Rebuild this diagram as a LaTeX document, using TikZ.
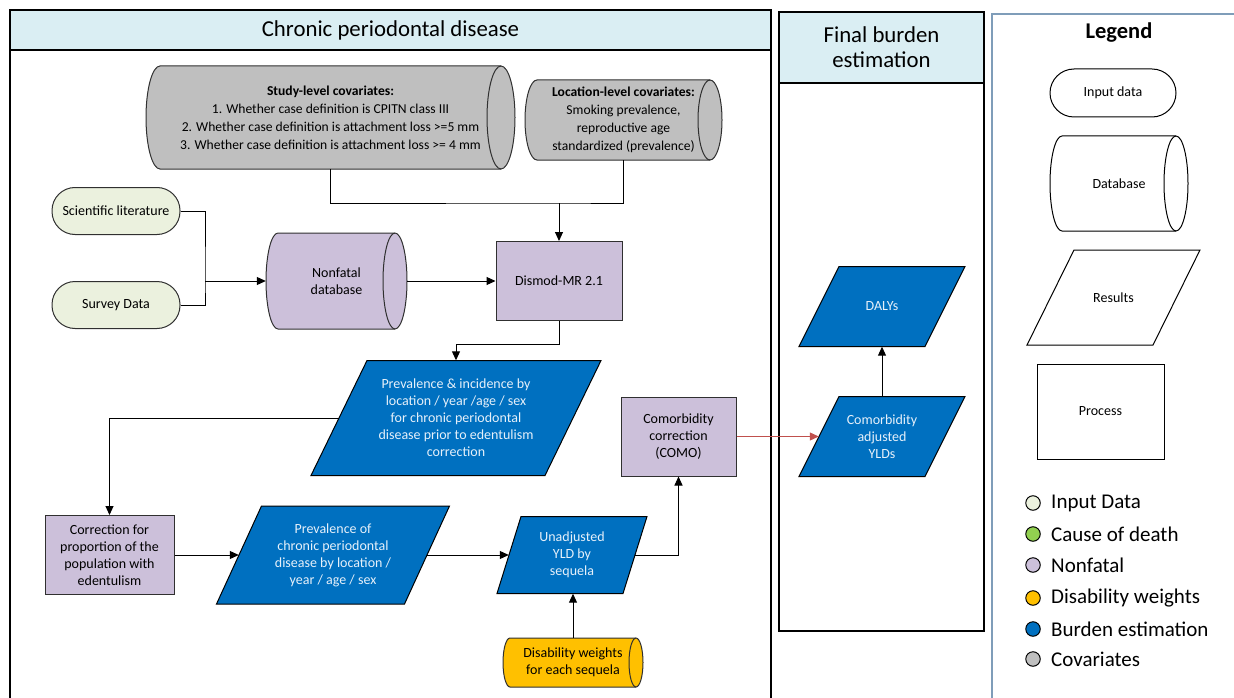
\documentclass[tikz,border=0pt]{standalone}
\usepackage{fontspec}
\setmainfont{Carlito}
\usetikzlibrary{arrows.meta,calc}
\definecolor{hdr}{HTML}{DAEEF3}
\definecolor{burden}{HTML}{0070C0}
\definecolor{nonfatal}{HTML}{CCC0DA}
\definecolor{inputc}{HTML}{EBF1DE}
\definecolor{covar}{HTML}{BFBFBF}
\definecolor{dw}{HTML}{FFC000}
\definecolor{cod}{HTML}{92D050}
\definecolor{legline}{HTML}{7F9DB9}
\definecolor{redarrow}{HTML}{C0504D}
\definecolor{edge}{HTML}{303030}
\definecolor{wtxt}{HTML}{E6F0FA}

\tikzset{
  shapetext/.style={inner sep=0pt, align=center, font=\fontsize{14}{17}\selectfont, text=black},
  covtext/.style={inner sep=0pt, align=center, font=\fontsize{13.6}{18}\selectfont, text=black},
  lgtext/.style={shapetext, font=\fontsize{14}{17}\selectfont},
  wtext/.style={shapetext, text=wtxt},
  bshape/.style={fill=burden, draw=black, line width=1pt},
  nfshape/.style={fill=nonfatal, draw=edge, line width=1pt},
  cvshape/.style={fill=covar, draw=edge, line width=1pt},
  dwshape/.style={fill=dw, draw=edge, line width=1pt},
  lgshape/.style={fill=white, draw=black, line width=1pt},
  procbox/.style={shapetext, draw=edge, line width=1pt, fill=nonfatal},
  inbox/.style={shapetext, draw=edge, line width=1pt, fill=inputc, rounded corners=23pt, minimum width=128pt, minimum height=47pt},
  panel/.style={draw=black, line width=1.2pt},
  titletext/.style={align=center, font=\fontsize{22.8}{25}\selectfont, inner sep=0pt},
  legtext/.style={anchor=west, font=\fontsize{21}{24}\selectfont, inner sep=0pt},
  dot/.style={circle, draw=black, line width=1pt, minimum size=14.5pt, inner sep=0pt},
  conn/.style={draw=black, line width=1pt},
  arr/.style={conn, -{Triangle[length=9pt,width=8pt]}},
}

% parallelogram: name, cx, cy, side width, height, slant, shape style, text style, text
\newcommand{\paral}[9]{%
  \filldraw[#7] ({#2-#4/2+#6/2},{#3-#5/2}) -- ({#2+#4/2+#6/2},{#3-#5/2}) -- ({#2+#4/2-#6/2},{#3+#5/2}) -- ({#2-#4/2-#6/2},{#3+#5/2}) -- cycle;
  \node[#8, minimum width=#4pt, minimum height=#5pt] (#1) at (#2,#3) {#9};}

% cylinder: name, body left x, right ellipse centre x, top y, bottom y, rx, shape style, text style, text
\newcommand{\cyl}[9]{%
  \filldraw[#7] (#2,#4) -- (#3,#4) arc[start angle=-90,end angle=90,x radius=#6,y radius={(#5-#4)/2}] -- (#2,#5) arc[start angle=90,end angle=270,x radius=#6,y radius={(#5-#4)/2}] -- cycle;
  \draw[#7,fill=none] (#3,#4) arc[start angle=-90,end angle=-270,x radius=#6,y radius={(#5-#4)/2}];
  \node[#8, minimum width={(#3-#2+2*#6)*1pt}, minimum height={(#5-#4)*1pt}] (#1) at ({(#2+#3)/2},{(#4+#5)/2}) {#9};}

\begin{document}
\begin{tikzpicture}[x=1pt,y=-1pt]
\useasboundingbox (0,0) rectangle (1234,698);

% ---------- panels ----------
\fill[hdr] (10,10) rectangle (771,50);
\draw[panel] (10,698) -- (10,10) -- (771,10) -- (771,698);
\draw[panel] (10,50) -- (771,50);
\node[titletext] (t1) at (390.5,30) {Chronic periodontal disease};

\fill[hdr] (779,12) rectangle (984,83);
\draw[panel] (779,12) rectangle (984,631);
\draw[panel] (779,83) -- (984,83);
\node[titletext] (t2) at (881.5,47.5) {Final burden\\estimation};

\draw[legline, line width=1.6pt] (1234,14) -- (992,14) -- (992,698);
\node[font=\fontsize{22.5}{26}\selectfont\bfseries, inner sep=0pt] (lt) at (1119,33) {Legend};

% ---------- legend shapes ----------
\node[lgtext, draw=black, line width=1pt, fill=white, rounded corners=24pt, minimum width=126pt, minimum height=48pt] (lin) at (1113,93) {Input data};
\cyl{ldb}{1062}{1176}{136}{231}{12}{lgshape}{lgtext}{Database}
\paral{lres}{1113.5}{297.5}{126}{95}{47}{lgshape}{lgtext}{Results}
\node[lgtext, draw=black, line width=1pt, fill=white, minimum width=127pt, minimum height=95pt] (lproc) at (1100.5,411.5) {Process};

\node[dot, fill=inputc] (c1) at (1033,503) {};
\node[legtext] (l1) at (1051,503) {Input Data};
\node[dot, fill=cod] (c2) at (1033,534) {};
\node[legtext] (l2) at (1051,534) {Cause of death};
\node[dot, fill=nonfatal] (c3) at (1033,565) {};
\node[legtext] (l3) at (1051,565) {Nonfatal};
\node[dot, fill=dw] (c4) at (1033,598) {};
\node[legtext] (l4) at (1051,598) {Disability weights};
\node[dot, fill=burden] (c5) at (1033,629) {};
\node[legtext] (l5) at (1051,629) {Burden estimation};
\node[dot, fill=covar] (c6) at (1033,659) {};
\node[legtext] (l6) at (1051,659) {Covariates};

% ---------- main flow ----------
\cyl{study}{160}{501}{66}{169}{14}{cvshape}{covtext}{\textbf{Study-level covariates:}\\1. Whether case definition is CPITN class III\\2. Whether case definition is attachment loss >=5 mm\\3. Whether case definition is attachment loss >= 4 mm}
\cyl{loc}{537}{710}{80}{160}{12}{cvshape}{covtext}{\textbf{Location-level covariates:}\\Smoking prevalence,\\reproductive age\\standardized (prevalence)}

\node[inbox] (sci) at (116,211) {Scientific literature};
\node[inbox] (survey) at (116,305) {Survey Data};
\cyl{nonfatal}{278}{395}{233}{329}{12}{nfshape}{shapetext}{Nonfatal\\database}
\node[procbox, minimum width=126pt, minimum height=79pt] (dismod) at (559,281) {Dismod-MR 2.1};

\paral{prev1}{456}{418}{234}{115}{56}{bshape}{wtext}{Prevalence \& incidence by\\location / year /age / sex\\for chronic periodontal\\disease prior to edentulism\\correction}
\node[procbox, minimum width=129pt, minimum height=79pt] (corr) at (109.5,555) {Correction for\\proportion of the\\population with\\edentulism};
\paral{prev2}{333}{555}{188}{98}{45}{bshape}{wtext}{Prevalence of\\chronic periodontal\\disease by location /\\year / age / sex}
\paral{unadj}{572}{555}{126}{77}{24}{bshape}{wtext}{Unadjusted\\YLD by\\sequela}
\node[procbox, minimum width=115pt, minimum height=79pt] (como) at (678.5,436.5) {Comorbidity\\correction\\(COMO)};
\cyl{dis}{510}{636}{638}{687}{7}{dwshape}{shapetext}{Disability weights\\for each sequela}

\paral{ylds}{882}{436.5}{126}{80}{40}{bshape}{wtext}{Comorbidity\\adjusted\\YLDs}
\paral{dalys}{882}{306.5}{126}{80}{40}{bshape}{wtext}{DALYs}

% ---------- connectors ----------
\coordinate (cj) at (dismod.north |- 0,203);
\draw[conn] (study.south) |- (cj) -| (loc.south);
\draw[arr] (cj) -- (dismod.north);
\coordinate (mj) at (205,0 |- nonfatal.west);
\draw[conn] (sci.east) -| (mj) |- (survey.east);
\draw[arr] (mj) -- (nonfatal.west);
\draw[arr] (nonfatal.east) -- (dismod.west);
\draw[arr] (dismod.south) -- ++(0,23) -| (prev1.north);
\draw[arr] (prev1.west) -| (corr.north);
\draw[arr] (corr.east) -- (prev2.west);
\draw[arr] (prev2.east) -- (unadj.west);
\draw[arr] (unadj.east) -| (como.south);
\draw[arr, draw=redarrow, fill=redarrow] (como.east) -- (ylds.west);
\draw[arr] (ylds.north) -- (dalys.south);
\draw[arr] (dis.north) -- (dis.north |- unadj.south);
\end{tikzpicture}
\end{document}
